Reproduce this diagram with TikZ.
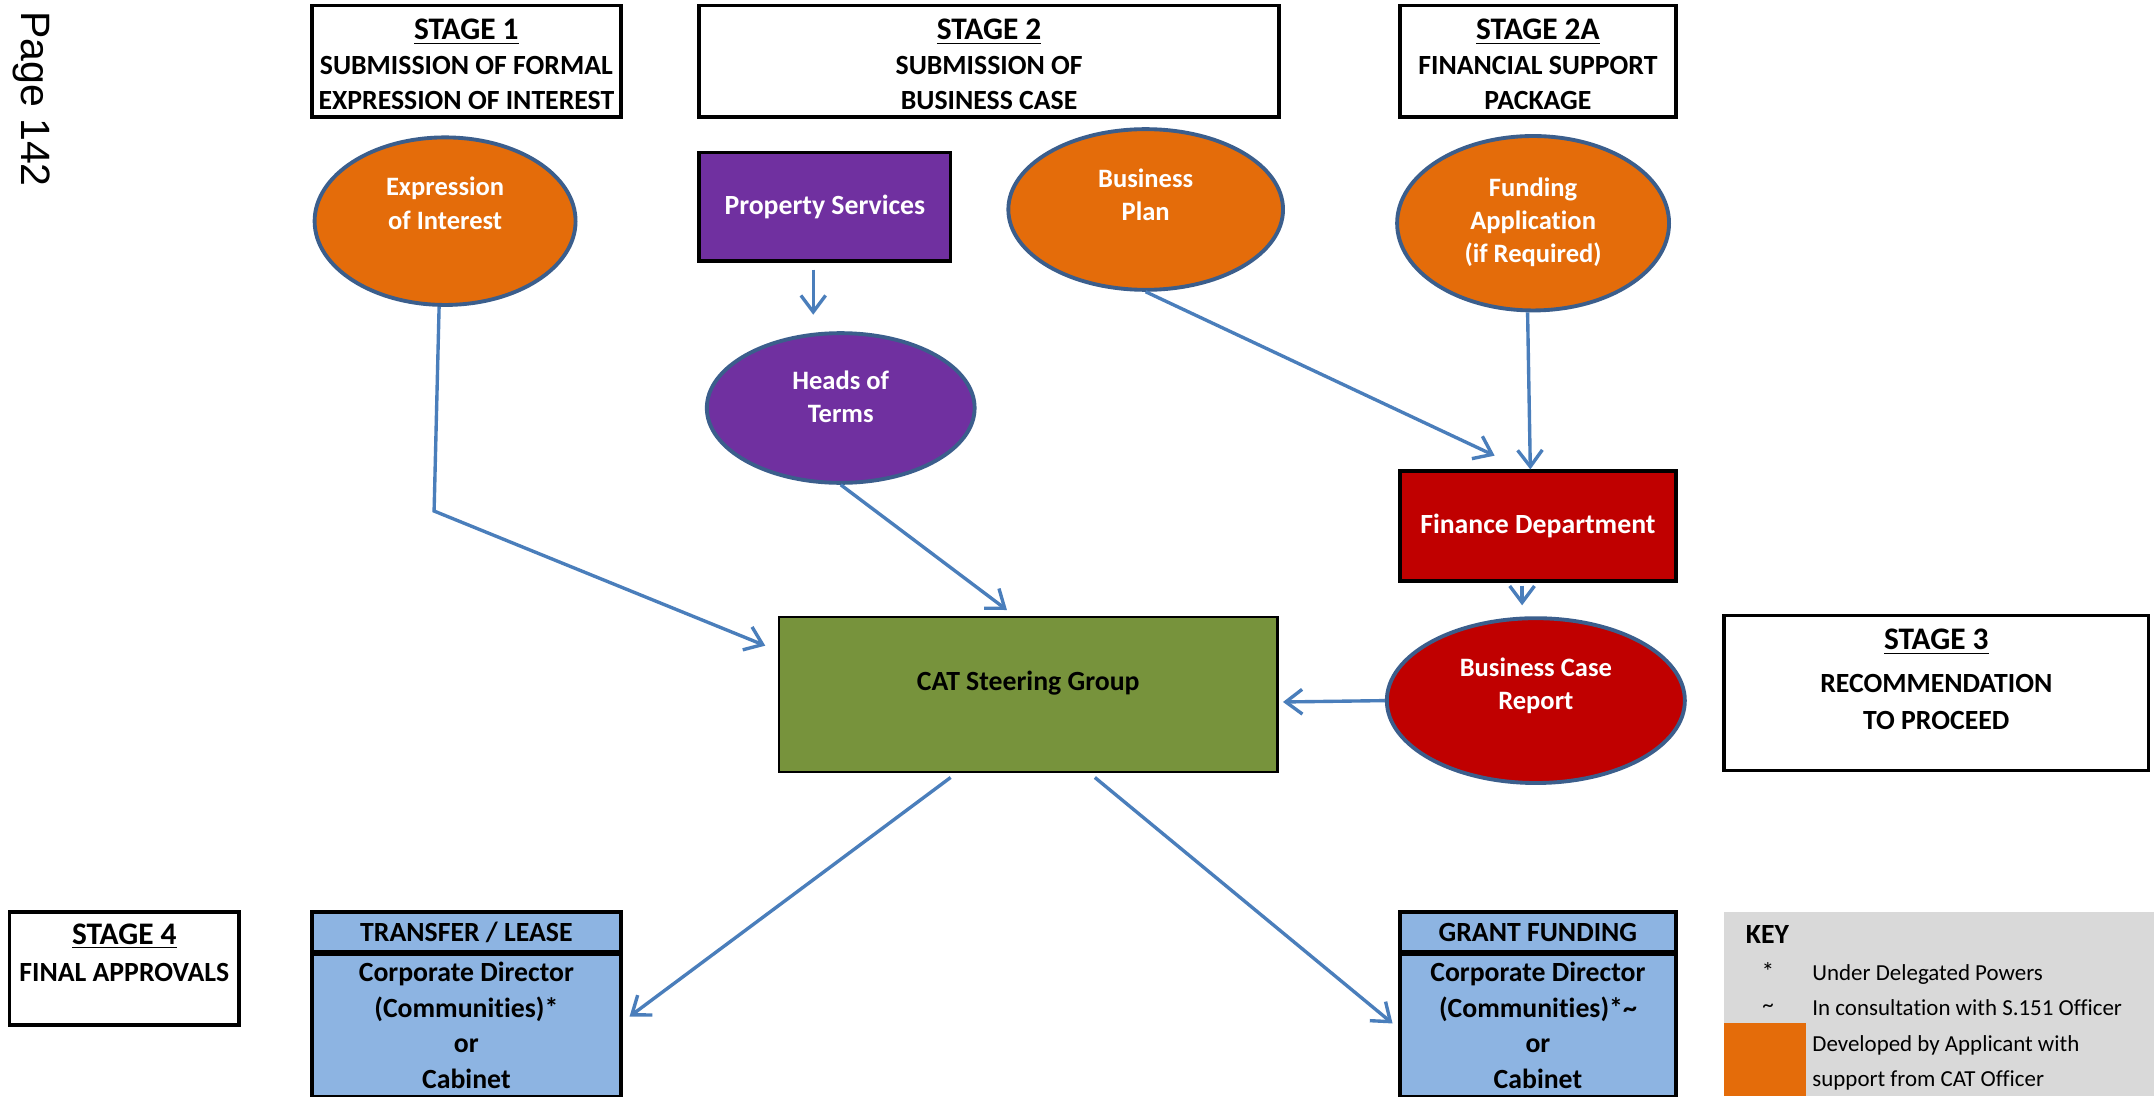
\documentclass[tikz,border=0pt]{standalone}
\usepackage{fontspec}
\setmainfont{Carlito}[Ligatures=NoCommon]
\newfontfamily\arialfont{Liberation Sans}
\usetikzlibrary{arrows.meta,shapes.geometric,calc}
\definecolor{orng}{HTML}{E46C0A}
\definecolor{purp}{HTML}{7030A0}
\definecolor{dred}{HTML}{C00000}
\definecolor{olive}{HTML}{77933C}
\definecolor{lblue}{HTML}{8DB4E2}
\definecolor{keygray}{HTML}{D9D9D9}
\definecolor{ellblue}{HTML}{3B5E8C}
\definecolor{arrblue}{HTML}{4A7EBB}
\begin{document}
\begin{tikzpicture}[x=0.02cm,y=-0.02cm,
  box/.style={rectangle,draw=black,line width=1.5pt,inner sep=0pt},
  ell/.style={ellipse,draw=ellblue,line width=1.6pt,inner sep=0pt},
  ttxt/.style={align=center,font=\bfseries\fontsize{11.5}{14.5}\selectfont,inner sep=0pt},
  wtxt/.style={align=center,text=white,font=\bfseries\fontsize{11}{13.7}\selectfont,inner sep=0pt},
  btxt/.style={align=center,font=\bfseries\fontsize{11.5}{14.8}\selectfont},
  keytxt/.style={anchor=base west,inner sep=0pt,font=\fontsize{9.5}{11}\selectfont},
  arr/.style={draw=arrblue,line width=1.4pt,-{Straight Barb[length=2.4mm,width=3.6mm]}},
]
\fill[white] (0,0) rectangle (1568,798);
\useasboundingbox (0,0) rectangle (1568,798);

% page label
\node[rotate=-90,font=\arialfont\fontsize{17}{20}\selectfont,inner sep=0pt] (pg) at (23,72) {Page 142};

% stage boxes
\node[box,minimum width=4.5cm,minimum height=1.62cm] (s1) at (339.5,44.5) {};
\node[ttxt] (s1t) at (339.5,47) {{\fontsize{13}{14.5}\selectfont\underline{STAGE 1}}\\SUBMISSION OF FORMAL\\EXPRESSION OF INTEREST};
\node[box,minimum width=8.44cm,minimum height=1.62cm] (s2) at (720,44.5) {};
\node[ttxt] (s2t) at (720,47) {{\fontsize{13}{14.5}\selectfont\underline{STAGE 2}}\\SUBMISSION OF\\BUSINESS CASE};
\node[box,minimum width=4.02cm,minimum height=1.62cm] (s2a) at (1119.5,44.5) {};
\node[ttxt] (s2at) at (1119.5,47) {{\fontsize{13}{14.5}\selectfont\underline{STAGE 2A}}\\FINANCIAL SUPPORT\\PACKAGE};
\node[box,minimum width=6.18cm,minimum height=2.26cm] (s3) at (1409.5,504.5) {};
\node[ttxt,font=\bfseries\fontsize{11.5}{15.4}\selectfont] (s3t) at (1409.5,494.5) {{\fontsize{13}{15.4}\selectfont\underline{STAGE 3}}\\[2.4pt]RECOMMENDATION\\TO PROCEED};
\node[box,minimum width=3.34cm,minimum height=1.64cm] (s4) at (90.5,705) {};
\node[ttxt,font=\bfseries\fontsize{11.5}{15.4}\selectfont] (s4t) at (90.5,693.5) {{\fontsize{13}{15.4}\selectfont\underline{STAGE 4}}\\FINAL APPROVALS};

% ellipses
\node[ell,fill=orng,minimum width=3.8cm,minimum height=2.44cm] (expr) at (324,161) {};
\node[wtxt] (exprt) at (324,148) {Expression\\of Interest};
\node[ell,fill=orng,minimum width=4.0cm,minimum height=2.34cm] (bplan) at (834,152.5) {};
\node[wtxt] (bplant) at (834,142) {Business\\Plan};
\node[ell,fill=orng,minimum width=3.96cm,minimum height=2.54cm] (fund) at (1116,162.5) {};
\node[wtxt] (fundt) at (1116,162) {Funding\\Application\\(if Required)};
\node[ell,fill=purp,minimum width=3.9cm,minimum height=2.18cm] (heads) at (612,297) {};
\node[wtxt] (headst) at (612,288.5) {Heads of\\Terms};
\node[ell,fill=dred,minimum width=4.34cm,minimum height=2.4cm] (bcr) at (1118,510) {};
\node[wtxt] (bcrt) at (1118,499.5) {Business Case\\Report};

% rectangles
\node[box,fill=purp,text=white,font=\bfseries\fontsize{11.5}{14}\selectfont,minimum width=3.66cm,minimum height=1.58cm] (prop) at (600.5,150.5) {\raisebox{-1.2pt}{Property Services}};
\node[box,fill=dred,text=white,font=\bfseries\fontsize{11.5}{14}\selectfont,minimum width=4.02cm,minimum height=1.6cm] (finance) at (1119.5,383) {\raisebox{-2.6pt}{Finance Department}};
\node[box,fill=olive,line width=1.1pt,minimum width=7.26cm,minimum height=2.26cm] (cat) at (748.5,505.5) {};
\node[ttxt] (catt) at (748.5,497) {CAT Steering Group};

% approval boxes
\node[box,fill=lblue,minimum width=4.5cm,minimum height=0.58cm,font=\bfseries\fontsize{11.5}{14}\selectfont] (trH) at (339.5,678.5) {TRANSFER / LEASE};
\node[box,fill=lblue,minimum width=4.5cm,minimum height=2.08cm,btxt] (trB) at (339.5,746.5) {Corporate Director\\(Communities)*\\or\\Cabinet};
\node[box,fill=lblue,minimum width=4.02cm,minimum height=0.58cm,font=\bfseries\fontsize{11.5}{14}\selectfont] (grH) at (1119.5,678.5) {GRANT FUNDING};
\node[box,fill=lblue,minimum width=4.02cm,minimum height=2.08cm,btxt] (grB) at (1119.5,746.5) {Corporate Director\\(Communities)*\textasciitilde\\or\\Cabinet};

% key
\node[fill=keygray,minimum width=6.26cm,minimum height=2.68cm,inner sep=0pt] (key) at (1411.5,731) {};
\node[fill=orng,minimum width=1.2cm,minimum height=1.06cm,inner sep=0pt] (keyor) at (1285,771.5) {};
\node[anchor=base west,font=\bfseries\fontsize{11.5}{14}\selectfont,inner sep=0pt] (keyt) at (1270.6,686.5) {KEY};
\node[anchor=base,inner sep=0pt,font=\fontsize{10.5}{11}\selectfont] (k1s) at (1287,714) {*};
\node[keytxt] (k1) at (1319,713.4) {Under Delegated Powers};
\node[anchor=base,inner sep=0pt,font=\fontsize{9.5}{11}\selectfont] (k2s) at (1287,737) {\textasciitilde};
\node[keytxt] (k2) at (1319,739) {In consultation with S.151 Officer};
\node[keytxt] (k3) at (1319,765.6) {Developed by Applicant with};
\node[keytxt] (k4) at (1319,791) {support from CAT Officer};

% connectors
\coordinate (e1) at (316,372);
\draw[arr] (expr.266) -- (e1) -- ($(cat.west)+(-9,-35.5)$);
\draw[arr] ($(prop.south)+(-8.5,5)$) -- ($(heads.north)+(-20,-12)$);
\draw[arr] (heads.south) -- ($(cat.north)+(-15.5,-4)$);
\draw[arr] (bplan.south) -- ($(finance.north)+(-31.5,-10)$);
\draw[arr] ($(fund.south)+(-4,0)$) -- ($(finance.north)+(-5.5,0)$);
\draw[arr] ($(finance.south)+(-11.5,2)$) -- ($(bcr.north)+(-10,-8)$);
\draw[arr] (bcr.west) -- ($(cat.east)+(3,5.5)$);
\draw[arr] ($(cat.south)+(-56.5,3)$) -- ($(trB.east)+(5,-6.5)$);
\draw[arr] ($(cat.south)+(48.5,3)$) -- ($(grB.west)+(-4,-1.5)$);
\end{tikzpicture}
\end{document}
